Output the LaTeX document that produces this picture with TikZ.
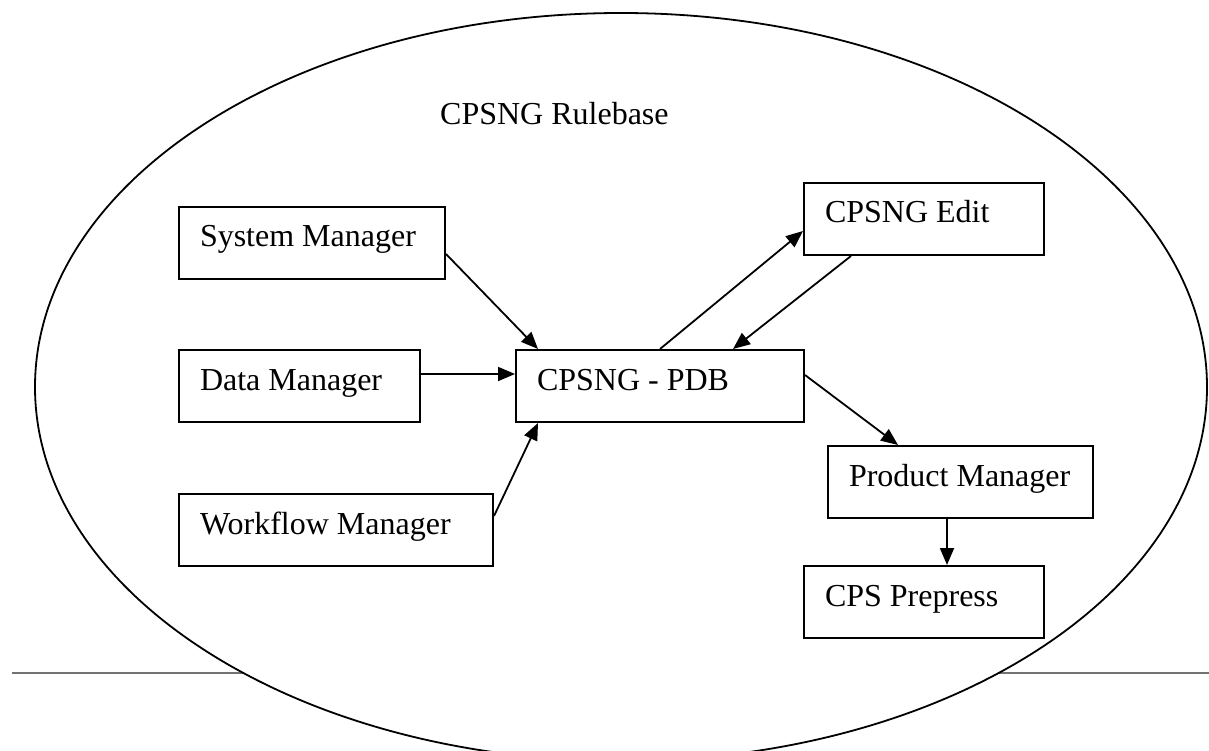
\documentclass[tikz,border=0pt]{standalone}
\usepackage{fontspec}
\setmainfont{Liberation Serif}
\usetikzlibrary{arrows.meta,shapes.geometric}
% left-aligned label of fixed width inside a box
\newcommand{\boxtext}[2]{\makebox[#1][l]{#2}}
\begin{document}
\begin{tikzpicture}[x=1pt,y=-1pt,
  labelfont/.style={font=\fontsize{32}{38}\selectfont},
  unitbox/.style={draw, line width=2pt, rectangle, inner xsep=21pt, inner ysep=0pt,
    anchor=north west, text height=40pt, text depth=32pt, labelfont},
  conn/.style={line width=1.8pt, -{Triangle[length=17pt,width=14pt]}},
  baseline rule/.style={black!55, line width=1.5pt},
  scope oval/.style={draw, ellipse, fill=white, line width=1.8pt, inner sep=0pt,
    minimum width=1172pt, minimum height=748pt}]
\useasboundingbox (0,0) rectangle (1209,751);

% horizontal rule behind the oval
\coordinate (ruleL) at (12,673);
\coordinate (ruleR) at (1209,673);
\draw[baseline rule] (ruleL) -- (ruleR);

% the rulebase boundary
\node[scope oval] (rulebase) at (621,387) {};
\node[labelfont, anchor=base west, inner sep=0pt] (title) at (440,125) {CPSNG Rulebase};

% components
\node[unitbox] (sys)  at (178,206) {\boxtext{224pt}{System Manager}};
\node[unitbox] (data) at (178,349) {\boxtext{199pt}{Data Manager}};
\node[unitbox] (work) at (178,493) {\boxtext{272pt}{Workflow Manager}};
\node[unitbox] (pdb)  at (515,349) {\boxtext{246pt}{CPSNG - PDB}};
\node[unitbox] (edit) at (803,182) {\boxtext{198pt}{CPSNG Edit}};
\node[unitbox] (prod) at (827,445) {\boxtext{223pt}{Product Manager}};
\node[unitbox] (prep) at (803,565) {\boxtext{198pt}{CPS Prepress}};

% flows
\draw[conn] ([yshift=-11pt]sys.east) -- ([xshift=23pt]pdb.north west);
\draw[conn] ([yshift=12pt]data.east) -- ([yshift=12pt]pdb.west);
\draw[conn] ([yshift=14pt]work.east) -- ([xshift=23pt]pdb.south west);
\draw[conn] ([xshift=145pt]pdb.north west) -- ([yshift=-12pt]edit.west);
\draw[conn] ([xshift=48pt]edit.south west) -- ([xshift=218pt]pdb.north west);
\draw[conn] ([yshift=11pt]pdb.east) -- ([xshift=71pt]prod.north west);
\draw[conn] ([xshift=120pt]prod.south west) -- ([xshift=120pt]prod.south west |- prep.north);
\end{tikzpicture}
\end{document}
